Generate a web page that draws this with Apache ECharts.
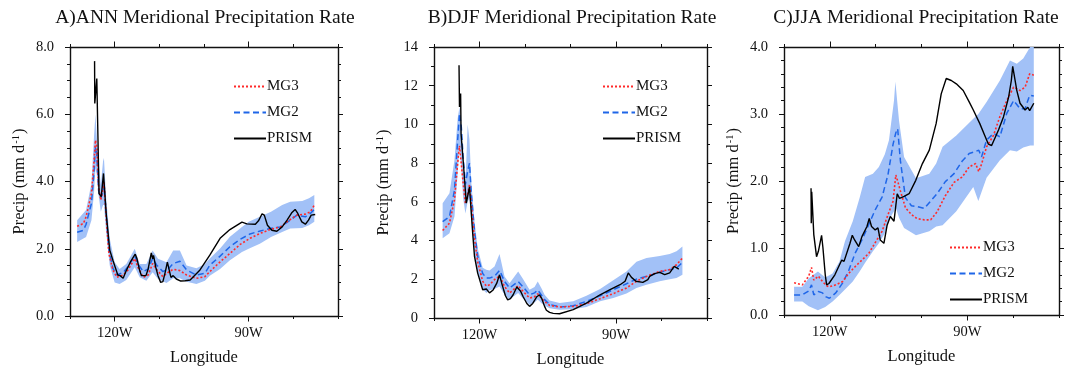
<!DOCTYPE html>
<html><head><meta charset="utf-8">
<script src="https://cdn.jsdelivr.net/npm/echarts@6/dist/echarts.min.js"></script>
<style>html,body{margin:0;padding:0;background:#fff}#c{width:1071px;height:368px}</style>
</head><body><div id="c"></div>
<script>
// ---------- Panel A: ANN ----------
const annBandLon = [-128.4,-126.4,-125.2,-124.6,-124.3,-124.0,-123.6,-123.1,-122.6,-122.4,-121.9,-121.1,-120.0,-118.9,-117.4,-115.5,-114.4,-112.9,-111.5,-110.3,-108.4,-106.9,-105.4,-103.9,-101.7,-99.8,-98.7,-96.4,-94.2,-91.5,-90.0,-87.5,-85.0,-82.5,-80.7,-78.0,-76.5,-75.3];
const annBandHi  = [2.85,3.15,3.94,5.4,6.0,5.3,4.6,3.9,4.6,4.7,3.5,2.3,1.6,1.4,1.55,2.0,1.55,1.55,1.95,1.7,1.6,1.95,1.95,1.5,1.42,1.55,1.71,2.01,2.36,2.65,2.8,2.95,3.1,3.3,3.4,3.42,3.5,3.6];
const annBandLo  = [2.2,2.35,2.85,3.7,4.4,4.2,3.6,3.1,3.3,3.3,2.5,1.5,1.0,0.95,1.07,1.45,1.15,1.05,1.3,1.1,0.98,1.12,1.12,1.02,0.95,1.05,1.2,1.4,1.66,1.9,2.0,2.15,2.35,2.5,2.6,2.62,2.7,2.8];
const annModelLon = [-128.4,-127.0,-126.4,-125.2,-124.6,-124.3,-124.0,-123.6,-123.1,-122.6,-122.4,-121.9,-121.3,-120.4,-119.5,-118.1,-117.0,-115.5,-114.8,-113.6,-112.5,-111.5,-110.6,-109.2,-108.0,-106.9,-105.4,-103.9,-101.7,-99.8,-98.7,-96.4,-94.2,-91.9,-89.7,-87.4,-85.2,-82.9,-80.7,-79.2,-77.3,-76.2,-75.3];
const annMG3 = [2.67,2.75,2.95,3.64,4.63,5.23,5.03,3.84,3.45,3.8,4.0,2.95,1.86,1.37,1.15,1.22,1.37,1.71,1.45,1.15,1.22,1.56,1.38,1.17,1.3,1.39,1.35,1.22,1.12,1.17,1.32,1.61,1.86,2.13,2.31,2.46,2.57,2.65,2.87,3.0,3.03,3.1,3.3];
const annMG2 = [2.49,2.55,2.73,3.35,4.34,5.03,4.78,3.74,3.5,3.7,3.89,3.05,1.96,1.42,1.22,1.29,1.47,1.78,1.55,1.32,1.4,1.71,1.52,1.32,1.4,1.56,1.63,1.37,1.22,1.27,1.51,1.78,2.06,2.28,2.44,2.53,2.6,2.65,2.85,3.0,2.95,3.05,3.17];
const annPrismLon = [-124.5,-124.45,-124.0,-123.5,-123.0,-122.5,-121.9,-121.1,-120.4,-119.3,-118.8,-118.1,-117.4,-116.5,-115.4,-115.0,-114.4,-114.0,-113.0,-112.5,-111.8,-111.5,-111.3,-110.8,-110.3,-109.7,-109.2,-108.6,-108.2,-107.8,-107.4,-106.9,-106.2,-105.2,-104.2,-103.1,-100.9,-98.7,-96.4,-94.2,-91.5,-90.4,-88.5,-87.8,-87.0,-86.5,-85.8,-84.8,-83.7,-82.5,-81.4,-80.3,-79.6,-79.0,-78.1,-77.3,-76.6,-76.0,-75.1];
const annPrism = [7.58,6.32,7.06,3.64,3.55,4.24,3.05,1.96,1.66,1.22,1.2,1.12,1.35,1.6,1.84,1.7,1.35,1.2,1.2,1.4,1.88,1.7,1.8,1.45,1.2,1.0,1.02,1.35,1.6,1.55,1.15,1.2,1.1,1.04,1.05,1.07,1.37,1.81,2.31,2.57,2.79,2.74,2.73,2.83,3.04,3.0,2.7,2.55,2.52,2.65,2.85,3.08,3.17,3.05,2.8,2.73,2.85,3.0,3.02];

// ---------- Panel B: DJF ----------
const djfModelLon = [-128.1,-126.6,-125.5,-124.8,-124.4,-124.0,-123.6,-123.1,-122.6,-122.2,-121.8,-121.1,-120.4,-119.3,-118.5,-117.8,-116.7,-115.6,-114.5,-113.4,-111.5,-110.4,-109.0,-107.9,-107.2,-106.3,-105.7,-104.6,-102.4,-99.4,-96.5,-93.5,-90.6,-87.7,-85.5,-83.3,-80.4,-78.2,-76.7,-75.4];
const djfMG3 = [4.52,4.9,6.1,8.0,8.9,8.8,7.0,5.9,6.4,6.9,5.9,4.1,2.9,1.9,1.65,1.72,1.98,2.18,1.63,1.29,1.67,1.37,1.03,1.1,1.25,1.0,0.85,0.65,0.57,0.6,0.74,1.0,1.26,1.55,1.9,2.15,2.41,2.5,2.75,3.09];
const djfMG2 = [4.98,5.24,6.6,9.19,10.57,9.88,8.3,6.9,7.6,8.0,6.44,4.5,3.2,2.3,2.06,2.06,2.15,2.46,1.89,1.55,1.89,1.6,1.2,1.3,1.45,1.15,0.95,0.7,0.57,0.63,0.86,1.15,1.46,1.77,2.01,2.15,2.36,2.5,2.58,2.87];
const djfBandHi = [5.93,6.44,8.16,10.3,10.9,9.8,7.5,6.9,10.0,9.2,7.0,5.0,3.6,2.6,2.49,2.45,2.66,3.3,2.15,1.8,2.4,2.0,1.46,1.6,1.89,1.5,1.2,0.9,0.77,0.86,1.15,1.5,1.95,2.4,2.9,3.1,3.2,3.3,3.45,3.69];
const djfBandLo = [4.12,4.38,5.24,7.47,8.85,7.8,6.2,5.4,6.0,6.2,5.0,3.3,2.3,1.5,1.29,1.43,1.5,1.63,1.2,0.95,1.29,1.0,0.69,0.8,0.95,0.75,0.64,0.51,0.43,0.45,0.57,0.86,1.03,1.26,1.55,1.72,1.9,2.0,2.06,2.23];
const djfPrismLon = [-124.5,-124.4,-124.3,-124.15,-124.05,-123.6,-122.9,-122.2,-121.5,-121.1,-120.4,-119.3,-118.5,-117.8,-117.0,-116.2,-115.6,-115.0,-114.3,-113.8,-113.2,-112.6,-111.8,-111.5,-111.0,-110.4,-109.6,-109.0,-108.3,-107.4,-106.8,-106.3,-105.7,-105.3,-104.6,-103.8,-102.4,-99.4,-96.5,-93.5,-91.3,-89.1,-88.0,-87.3,-86.6,-85.6,-84.1,-83.0,-82.6,-81.5,-80.4,-79.3,-78.2,-77.2,-76.2];
const djfPrism = [13.06,10.9,10.8,11.6,9.5,8.16,5.93,6.78,4.4,3.18,2.32,1.46,1.5,1.3,1.45,1.8,2.23,1.7,1.15,0.94,1.0,1.2,1.6,1.63,1.4,1.1,0.75,0.6,0.75,1.1,1.2,1.0,0.6,0.4,0.29,0.24,0.22,0.43,0.77,1.2,1.46,1.72,1.9,2.33,2.1,1.9,1.84,1.98,2.15,2.29,2.36,2.24,2.33,2.67,2.53];

// ---------- Panel C: JJA ----------
const jjaBandLon = [-127.8,-126.0,-124.6,-122.6,-121.0,-119.4,-117.9,-116.7,-115.0,-113.5,-112.3,-110.6,-109.3,-108.0,-107.1,-106.0,-105.7,-104.9,-103.8,-101.2,-98.3,-96.8,-95.4,-92.4,-88.7,-87.6,-85.8,-82.9,-80.7,-79.2,-77.8,-76.3,-75.5];
const jjaBandHi = [0.42,0.42,0.55,0.65,0.56,0.62,0.8,1.1,1.4,1.75,2.06,2.11,2.21,2.4,2.61,3.2,3.48,2.9,2.36,2.04,2.11,2.26,2.51,2.68,2.93,3.0,3.18,3.5,3.8,3.75,3.83,4.0,4.05];
const jjaBandLo = [0.2,0.2,0.13,0.07,0.12,0.2,0.3,0.38,0.5,0.65,0.78,0.95,1.07,1.22,1.42,1.55,1.62,1.45,1.3,1.19,1.25,1.32,1.34,1.55,1.91,1.7,2.05,2.31,2.46,2.44,2.5,2.53,2.53];
const jjaModelLon = [-127.8,-126.0,-124.6,-124.0,-123.5,-122.5,-121.6,-120.8,-120.1,-118.7,-117.2,-115.9,-114.5,-113.0,-111.5,-110.1,-108.6,-107.3,-106.2,-105.6,-105.2,-104.6,-103.5,-102.2,-101.0,-99.4,-98.0,-96.6,-94.8,-92.9,-91.1,-89.6,-88.2,-87.5,-86.9,-85.8,-84.3,-82.9,-81.4,-79.9,-78.5,-77.4,-76.4,-75.5];
const jjaMG3 = [0.48,0.45,0.58,0.71,0.52,0.58,0.5,0.44,0.42,0.45,0.5,0.62,0.72,0.82,0.92,1.08,1.25,1.5,1.7,2.09,2.0,1.85,1.6,1.5,1.44,1.42,1.42,1.54,1.78,1.98,2.06,2.21,2.26,2.14,2.25,2.51,2.68,2.96,3.2,3.4,3.35,3.4,3.6,3.58];
const jjaMG2 = [0.3,0.3,0.36,0.45,0.3,0.35,0.33,0.27,0.25,0.33,0.48,0.66,0.92,1.12,1.35,1.57,1.76,2.1,2.55,2.72,2.78,2.3,1.75,1.63,1.62,1.59,1.7,1.81,1.99,2.11,2.3,2.41,2.44,2.46,2.36,2.61,2.71,2.66,3.01,3.2,3.08,3.08,3.28,3.27];
const jjaPrismLon = [-124.1,-124.05,-123.95,-123.5,-122.9,-122.5,-121.8,-121.5,-121.0,-120.7,-120.2,-118.9,-117.4,-116.9,-115.6,-115.1,-114.6,-113.7,-113.0,-111.9,-111.4,-110.9,-110.1,-109.5,-109.0,-108.2,-107.5,-106.8,-106.0,-105.3,-104.8,-103.8,-102.7,-101.25,-99.8,-98.3,-96.8,-95.7,-94.6,-93.5,-92.4,-90.9,-89.6,-88.7,-87.3,-86.2,-85.4,-84.7,-83.2,-82.1,-81.0,-80.4,-80.1,-79.2,-78.5,-77.4,-76.8,-76.4,-75.5];
const jjaPrism = [1.89,1.37,1.84,1.2,0.87,0.95,1.19,1.0,0.6,0.45,0.47,0.6,0.82,0.8,1.07,1.19,1.12,1.02,1.17,1.32,1.44,1.32,1.27,1.3,1.12,1.07,1.34,1.47,1.4,1.81,1.74,1.77,1.81,2.01,2.26,2.46,2.86,3.3,3.53,3.5,3.45,3.35,3.18,3.06,2.86,2.68,2.55,2.53,2.76,2.96,3.25,3.5,3.71,3.35,3.16,3.06,3.1,3.05,3.16];

const xTickLabels = {'-120': '120W', '-90': '90W'};
const titles = ['A)ANN Meridional Precipitation Rate', 'B)DJF Meridional Precipitation Rate', 'C)JJA Meridional Precipitation Rate'];
const seriesNames = ['MG3', 'MG2', 'PRISM'];

const FONT = '"Liberation Serif","Times New Roman",Times,serif';
const BAND = '#a2c1f7';
const RED = '#ff2a2a';
const BLUE = '#1f66e8';

const panels = [
  {grid:{left:70, top:47, width:268, height:269}, tcx:200, ymax:8, yint:2, ysplit:4, dec:1,
   band:[annBandLon, annBandLo, annBandHi], mg3:[annModelLon, annMG3], mg2:[annModelLon, annMG2], prism:[annPrismLon, annPrism],
   legend:{left:233, top:79}},
  {grid:{left:434, top:47, width:273, height:271}, tcx:567, ymax:14, yint:2, ysplit:2, dec:0,
   band:[djfModelLon, djfBandLo, djfBandHi], mg3:[djfModelLon, djfMG3], mg2:[djfModelLon, djfMG2], prism:[djfPrismLon, djfPrism],
   legend:{left:602, top:79}},
  {grid:{left:784, top:47, width:275, height:268}, tcx:911, ymax:4, yint:1, ysplit:5, dec:1,
   band:[jjaBandLon, jjaBandLo, jjaBandHi], mg3:[jjaModelLon, jjaMG3], mg2:[jjaModelLon, jjaMG2], prism:[jjaPrismLon, jjaPrism],
   legend:{left:949, top:240}}
];

const zip = (xs, ys) => xs.map((x, i) => [x, ys[i]]);

const option = {animation:false, backgroundColor:'#fff', title:[], grid:[], xAxis:[], yAxis:[], series:[], legend:[]};

panels.forEach((p, i) => {
  option.grid.push(Object.assign({containLabel:false, outerBoundsMode:'none'}, p.grid));
  option.title.push({text: titles[i], left: p.tcx, top: 3, textAlign:'center',
    textStyle:{fontFamily:FONT, fontSize:19.5, fontWeight:'normal', color:'#111'}});
  const axLine = {show:true, onZero:false, lineStyle:{color:'#111', width:1.4}};
  const mkX = (pos, main) => ({
    type:'value', gridIndex:i, position:pos, min:-130, max:-70, interval:10,
    axisLine:axLine,
    axisTick:{show:true, inside:false, length:3, lineStyle:{color:'#111', width:1}},
    axisLabel:{show: main, margin:10, fontFamily:FONT, fontSize:14.5, color:'#111',
      formatter: v => xTickLabels[String(v)] || ''},
    splitLine:{show:false},
    name: main ? 'Longitude' : '', nameLocation:'middle', nameGap:33,
    nameTextStyle:{fontFamily:FONT, fontSize:16.5, color:'#111'}
  });
  const mkXLong = (pos) => ({
    type:'value', gridIndex:i, position:pos, min:-130, max:-70, interval:10,
    axisLine:{show:false, onZero:false},
    axisTick:{show:true, inside:false, length:5.5, customValues:[-120, -90], lineStyle:{color:'#111', width:1}},
    axisLabel:{show:false}, splitLine:{show:false}
  });
  option.xAxis.push(mkX('bottom', true), mkX('top', false), mkXLong('bottom'), mkXLong('top'));
  const mkY = (pos, main) => ({
    type:'value', gridIndex:i, position:pos, min:0, max:p.ymax, interval:p.yint,
    axisLine:axLine,
    axisTick:{show:true, inside:false, length:5, lineStyle:{color:'#111', width:1}},
    minorTick:{show:true, splitNumber:p.ysplit, length:3, lineStyle:{color:'#111', width:1}},
    axisLabel:{show: main, margin:16, fontFamily:FONT, fontSize:14.5, color:'#111',
      formatter: v => v.toFixed(p.dec)},
    splitLine:{show:false}, minorSplitLine:{show:false},
    name: main ? '{b|Precip (mm d}{s|-1}{b|)}' : '', nameLocation:'middle', nameGap:42, nameRotate:90,
    nameTextStyle:{fontFamily:FONT, color:'#111', rich:{
      b:{fontFamily:FONT, fontSize:16.5, color:'#111'},
      s:{fontFamily:FONT, fontSize:10.5, color:'#111', verticalAlign:'top', padding:[0,1,0,1]}}}
  });
  option.yAxis.push(mkY('left', true), mkY('right', false));
  const xi = 4 * i, yi = 2 * i;
  const [bLon, bLo, bHi] = p.band;
  option.series.push({
    type:'custom', name:'band', xAxisIndex:xi, yAxisIndex:yi, silent:true, clip:true, z:1,
    data:[[-100, 1]],
    renderItem: (params, api) => {
      if (params.dataIndex > 0) return null;
      const pts = bLon.map((x, k) => api.coord([x, bHi[k]]));
      for (let k = bLon.length - 1; k >= 0; k--) pts.push(api.coord([bLon[k], bLo[k]]));
      return {type:'polygon', shape:{points:pts}, style:{fill:BAND}};
    }
  });
  const lineSeries = (name, d, color, type, width, z) => ({
    type:'line', name, xAxisIndex:xi, yAxisIndex:yi, data: zip(d[0], d[1]),
    symbol:'none', showSymbol:false, clip:true, z,
    lineStyle:{color, type, width}, itemStyle:{color}
  });
  option.series.push(lineSeries('MG2', p.mg2, BLUE, [6, 3.5], 1.5, 3));
  option.series.push(lineSeries('MG3', p.mg3, RED, [2, 2], 1.6, 4));
  option.series.push(lineSeries('PRISM', p.prism, '#000', 'solid', 1.4, 5));
  option.legend.push({
    data: seriesNames, orient:'vertical', left:p.legend.left, top:p.legend.top, padding:0,
    itemWidth:32, itemHeight:14, itemGap:11, selectedMode:false,
    itemStyle:{opacity:0},
    textStyle:{fontFamily:FONT, fontSize:15, color:'#111', padding:[0,0,0,-4]}
  });
});

const chart = echarts.init(document.getElementById('c'), null, {renderer:'canvas'});
chart.setOption(option);
</script>
</body></html>
